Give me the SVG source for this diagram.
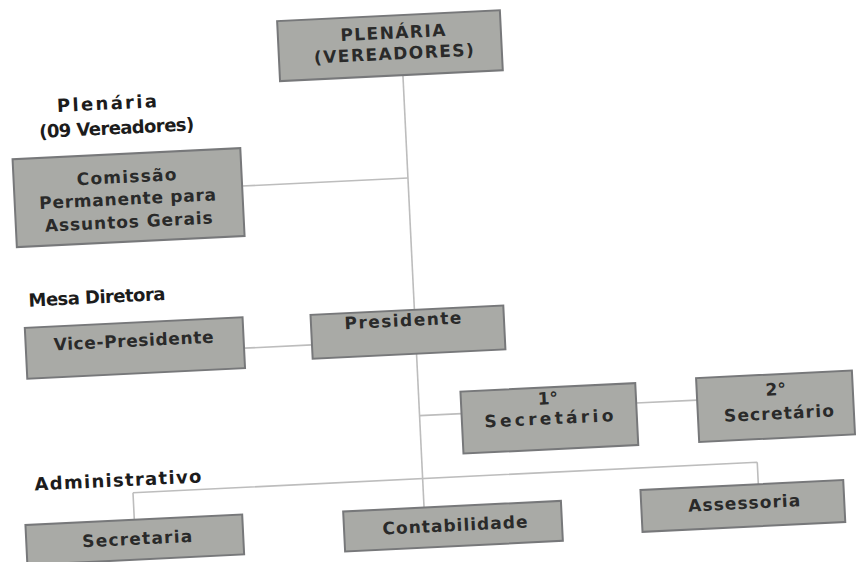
<svg xmlns="http://www.w3.org/2000/svg" width="859" height="562" viewBox="0 0 859 562">
<style>
  .box { fill: #a9aaa6; stroke: #77787a; stroke-width: 2; }
  .bt { font-family: "DejaVu Sans", "Liberation Sans", sans-serif; font-weight: bold; font-size: 17px; fill: #2a2a2a; text-anchor: middle; }
  .lbl { font-family: "DejaVu Sans", "Liberation Sans", sans-serif; font-weight: bold; font-size: 18px; fill: #1c1c1c; }
  .con { fill: none; stroke: #bdbdbd; stroke-width: 1.6; }
</style>
<rect width="859" height="562" fill="#ffffff"/>
<g transform="rotate(-2.8 430 281)">
  <g id="connectors">
    <path class="con" d="M413 74 V507"/>
    <path class="con" d="M247 177 H413"/>
    <path class="con" d="M241 339 H309"/>
    <path class="con" d="M413 415 H455"/>
    <path class="con" d="M630 413 H691"/>
    <path class="con" d="M123 478 H748 M123 478 V505 M748 478 V500"/>
  </g>
  <g id="labels">
    <text class="lbl" x="66" y="94" textLength="100" lengthAdjust="spacing">Plenária</text>
    <text class="lbl" x="47" y="119" textLength="155" lengthAdjust="spacing">(09 Vereadores)</text>
    <text class="lbl" x="28" y="287" textLength="137" lengthAdjust="spacing">Mesa Diretora</text>
    <text class="lbl" x="25" y="471" textLength="167" lengthAdjust="spacing">Administrativo</text>
  </g>
  <g id="plenaria">
    <rect class="box" x="290" y="14" width="223" height="60"/>
    <text class="bt" x="405" y="37" textLength="105" lengthAdjust="spacing">PLENÁRIA</text>
    <text class="bt" x="405" y="58" textLength="160" lengthAdjust="spacing">(VEREADORES)</text>
  </g>
  <g id="comissao">
    <rect class="box" x="19" y="139" width="228" height="88"/>
    <text class="bt" x="132" y="168" textLength="100" lengthAdjust="spacing">Comissão</text>
    <text class="bt" x="132" y="190" textLength="177" lengthAdjust="spacing">Permanente para</text>
    <text class="bt" x="132" y="213" textLength="168" lengthAdjust="spacing">Assuntos Gerais</text>
  </g>
  <g id="vice-presidente">
    <rect class="box" x="23" y="308" width="218" height="51"/>
    <text class="bt" x="131" y="332" textLength="160" lengthAdjust="spacing">Vice-Presidente</text>
  </g>
  <g id="presidente">
    <rect class="box" x="309" y="309" width="193" height="44"/>
    <text class="bt" x="401" y="325" textLength="117" lengthAdjust="spacing">Presidente</text>
  </g>
  <g id="secretario1">
    <rect class="box" x="455" y="393" width="175" height="62"/>
    <text class="bt" x="542" y="410">1°</text>
    <text class="bt" x="542" y="430" textLength="129" lengthAdjust="spacing">Secretário</text>
  </g>
  <g id="secretario2">
    <rect class="box" x="691" y="391" width="156" height="64"/>
    <text class="bt" x="770" y="412">2°</text>
    <text class="bt" x="772" y="436" textLength="110" lengthAdjust="spacing">Secretário</text>
  </g>
  <g id="secretaria">
    <rect class="box" x="14" y="505" width="217" height="40"/>
    <text class="bt" x="125" y="530" textLength="110" lengthAdjust="spacing">Secretaria</text>
  </g>
  <g id="contabilidade">
    <rect class="box" x="332" y="507" width="218" height="40"/>
    <text class="bt" x="443" y="532" textLength="145" lengthAdjust="spacing">Contabilidade</text>
  </g>
  <g id="assessoria">
    <rect class="box" x="630" y="500" width="203" height="42"/>
    <text class="bt" x="733" y="524" textLength="112" lengthAdjust="spacing">Assessoria</text>
  </g>
</g>
</svg>
